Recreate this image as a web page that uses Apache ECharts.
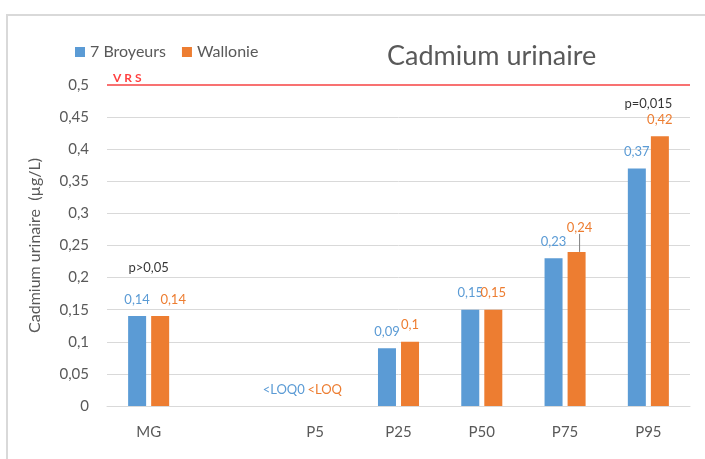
<!DOCTYPE html>
<html>
<head>
<meta charset="utf-8">
<script src="https://cdn.jsdelivr.net/npm/echarts@6/dist/echarts.min.js"></script>
<style>
  html, body { margin: 0; padding: 0; background: #fff; }
  #frame { position: absolute; left: 6px; top: 14px; width: 699px; height: 445px;
           border-left: 2px solid #d9d9d9; border-top: 2px solid #d9d9d9; }
  #chart { position: absolute; left: 0; top: 0; width: 705px; height: 459px; }
</style>
</head>
<body>
<div id="frame"></div>
<div id="chart"></div>
<script>
var categories = ['MG', '', 'P5', 'P25', 'P50', 'P75', 'P95'];
var broyeurs = [0.14, null, 0, 0.09, 0.15, 0.23, 0.37];
var wallonie = [0.14, null, 0, 0.1, 0.15, 0.24, 0.42];
var vrs = 0.5;
var pNotes = [['MG', 0.215, 'p>0,05'], ['P95', 0.47, 'p=0,015']];

var blue = '#5b9bd5', orange = '#ed7d31', grey = '#595959';
var font = 'Lato, "Open Sans", sans-serif';

function comma(v) { return String(v).replace('.', ','); }

(function() {
  var myChart = echarts.init(document.getElementById('chart'));

  // label tweaks like the original (Excel placed some by hand)
  function items(vals, tweaks) {
    return vals.map(function(v, i) {
      var t = tweaks[i];
      if (!t) return v;
      return { value: v, label: t.label, labelLine: t.labelLine };
    });
  }

  var option = {
    animation: false,
    title: {
      text: 'Cadmium urinaire',
      left: 382, top: 38,
      textStyle: { fontFamily: font, fontSize: 27, fontWeight: 'normal', color: grey }
    },
    legend: {
      left: 70, top: 39,
      itemWidth: 10, itemHeight: 10, itemGap: 16,
      icon: 'rect',
      data: ['7 Broyeurs', 'Wallonie'],
      textStyle: { fontFamily: font, fontSize: 16, color: grey }
    },
    grid: { left: 107, right: 15, top: 85, bottom: 53 },
    xAxis: {
      type: 'category',
      data: categories,
      axisLine: { lineStyle: { color: '#d9d9d9' } },
      axisTick: { show: false },
      axisLabel: { fontFamily: font, fontSize: 15, color: grey, margin: 19 }
    },
    yAxis: {
      type: 'value',
      min: 0, max: 0.5, interval: 0.05,
      name: 'Cadmium urinaire  (µg/L)',
      nameLocation: 'middle',
      nameGap: 64,
      nameTextStyle: { fontFamily: font, fontSize: 16, color: grey },
      axisLine: { show: false },
      axisTick: { show: false },
      splitLine: { lineStyle: { color: '#d9d9d9', width: 1 } },
      axisLabel: {
        fontFamily: font, fontSize: 15, color: grey, margin: 18,
        formatter: function(v) { return comma(+v.toFixed(2)); }
      }
    },
    series: [
      {
        name: '7 Broyeurs',
        type: 'bar',
        barWidth: 18,
        barGap: '28%',
        itemStyle: { color: blue },
        label: {
          show: true, position: 'top', distance: 10,
          fontFamily: font, fontSize: 13, color: blue,
          formatter: function(p) { return comma(p.value); }
        },
        labelLayout: function(params) {
          if (params.dataIndex === 2) return { dx: -20 };
        },
        data: items(broyeurs, {
          2: { label: { formatter: '<LOQ0' } }
        }),
        markLine: {
          silent: true,
          symbol: 'none',
          lineStyle: { color: '#f87171', width: 2, type: 'solid' },
          label: {
            show: true, position: 'insideStartTop', distance: [6, 1],
            formatter: 'V R S', color: '#ff4040', fontSize: 12, fontWeight: 'bold',
            fontFamily: font
          },
          data: [{ yAxis: vrs }]
        }
      },
      {
        name: 'Wallonie',
        type: 'bar',
        barWidth: 18,
        barGap: '28%',
        itemStyle: { color: orange },
        label: {
          show: true, position: 'top', distance: 10,
          fontFamily: font, fontSize: 13, color: orange,
          formatter: function(p) { return comma(p.value); }
        },
        labelLine: { show: false, lineStyle: { color: '#7f7f7f', width: 1 } },
        labelLayout: function(params) {
          if (params.dataIndex === 0) return { dx: 13 };
          if (params.dataIndex === 2) return { dx: -2 };
          if (params.dataIndex === 5) return { dx: 3, dy: -8 };
        },
        data: items(wallonie, {
          2: { label: { formatter: '<LOQ' } },
          5: { labelLine: { show: true } }
        })
      },
      {
        name: 'p',
        type: 'scatter',
        symbolSize: 0,
        silent: true,
        label: {
          show: true, position: 'inside',
          fontFamily: font, fontSize: 13, color: '#000',
          formatter: function(p) { return p.data[2]; }
        },
        data: pNotes
      }
    ]
  };

  myChart.setOption(option);
  window.addEventListener('resize', function() {
    myChart.resize();
  });
})();
</script>
</body>
</html>
